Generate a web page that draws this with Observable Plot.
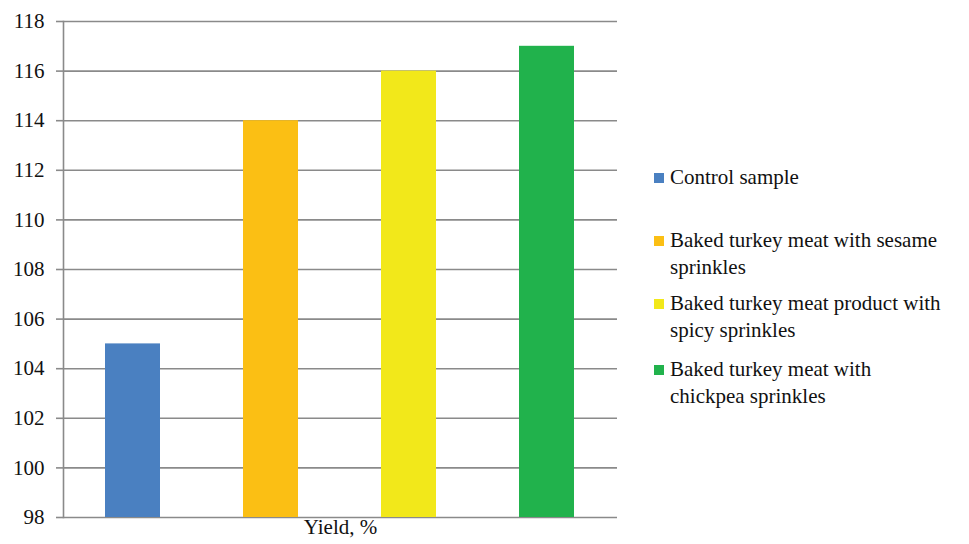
<!DOCTYPE html>
<html>
<head>
<meta charset="utf-8">
<script src="https://cdn.jsdelivr.net/npm/d3@7"></script>
<script src="https://cdn.jsdelivr.net/npm/@observablehq/plot@0.6"></script>
</head>
<body style="margin:0;padding:0;background:#fff;font-family:'Liberation Serif';">
<div id="wrap" style="position:relative;width:969px;height:544px;font-family:'Liberation Serif';"></div>
<script>
const categories = [
  "Control sample",
  "Baked turkey meat with sesame sprinkles",
  "Baked turkey meat product with spicy sprinkles",
  "Baked turkey meat with chickpea sprinkles"
];
const legendLines = [
  ["Control sample"],
  ["Baked turkey meat with sesame", "sprinkles"],
  ["Baked turkey meat product with", "spicy sprinkles"],
  ["Baked turkey meat with", "chickpea sprinkles"]
];
const values = [105, 114, 116, 117];
const colors = ["#4a80c1", "#fbbf14", "#f2e81a", "#21b24c"];
const yTicks = [98, 100, 102, 104, 106, 108, 110, 112, 114, 116, 118];
const xLabel = "Yield, %";

const data = categories.map((c, i) => ({category: c, value: values[i]}));

const chart = Plot.plot({
  width: 969,
  height: 544,
  marginLeft: 63,
  marginRight: 352,
  marginTop: 21,
  marginBottom: 27,
  style: {fontFamily: "Liberation Serif", fontSize: "21px", color: "#111", background: "#fff"},
  x: {domain: categories, paddingInner: 0.6, paddingOuter: 0.3, axis: null},
  y: {domain: [98, 118], axis: null},
  color: {domain: categories, range: colors},
  marks: [
    Plot.gridY(yTicks, {stroke: "#8a8a8a", strokeOpacity: 1, strokeWidth: 1.6}),
    Plot.barY(data, {x: "category", y1: 98, y2: "value", fill: "category"}),
    Plot.axisY(yTicks, {tickSize: 7, tickPadding: 12, stroke: "#8a8a8a", strokeWidth: 1.6, fontSize: 21, fill: "#111", label: null, tickFormat: d => String(d)}),
    Plot.frame({anchor: "left", stroke: "#8a8a8a", strokeWidth: 1.6}),
    Plot.text([xLabel], {frameAnchor: "bottom", dy: 16, fontSize: 21, fill: "#111"})
  ]
});
chart.querySelectorAll("text").forEach(t => t.setAttribute("font-family", "Liberation Serif"));

const wrap = document.getElementById("wrap");
wrap.appendChild(chart);

const legendTops = [164, 227, 290, 356];
legendLines.forEach((lines, i) => {
  const d = document.createElement("div");
  d.style.cssText = "position:absolute;left:654px;top:" + legendTops[i] + "px;font-family:'Liberation Serif';font-size:21px;line-height:27px;color:#111;white-space:nowrap;";
  const sw = document.createElement("div");
  sw.style.cssText = "position:absolute;left:0;top:9px;width:10px;height:10px;background:" + colors[i] + ";";
  const tx = document.createElement("div");
  tx.style.cssText = "position:absolute;left:16px;top:0;font-family:'Liberation Serif';";
  tx.innerHTML = lines.join("<br>");
  d.appendChild(sw);
  d.appendChild(tx);
  wrap.appendChild(d);
});
</script>
</body>
</html>
